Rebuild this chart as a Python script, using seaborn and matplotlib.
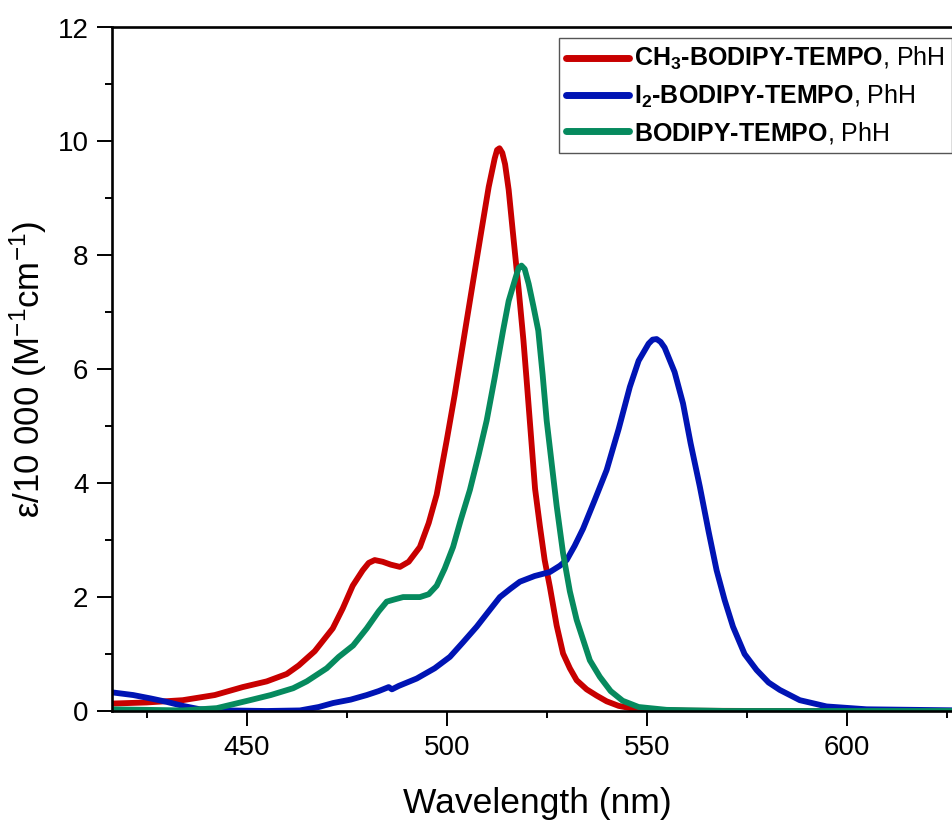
import numpy as np
import pandas as pd
import matplotlib
matplotlib.use("Agg")
import matplotlib.pyplot as plt
from matplotlib.ticker import MultipleLocator
import seaborn as sns

# ---- data ----
ch3_wl = [416, 425, 434, 442, 449, 455, 460, 463, 467, 471.5, 474, 476.5, 479, 480.5, 482, 484, 486,
          488.3, 490.5, 493.3, 495.5, 497.5, 500, 502, 504.6, 506.5, 508.7, 510.5, 512, 512.6, 513.2,
          513.9, 514.6, 515.5, 516.5, 518, 519.2, 520, 521, 522.1, 523.3, 524.5, 525.8, 527.5, 529.1,
          530.8, 532.5, 535, 537.5, 540, 543, 546, 550, 560, 580, 629]
ch3_eps = [0.13, 0.15, 0.19, 0.28, 0.42, 0.52, 0.65, 0.8, 1.05, 1.45, 1.8, 2.2, 2.47, 2.6, 2.65, 2.62, 2.57,
           2.53, 2.62, 2.88, 3.3, 3.8, 4.75, 5.55, 6.68, 7.5, 8.44, 9.2, 9.7, 9.85, 9.88,
           9.8, 9.6, 9.15, 8.44, 7.4, 6.5, 5.8, 4.9, 3.9, 3.25, 2.65, 2.18, 1.5, 1.01,
           0.75, 0.54, 0.38, 0.27, 0.17, 0.09, 0.05, 0.02, 0.005, 0.0, 0.0]

i2_wl = [416, 421.6, 426, 430, 434, 438.3, 445, 455, 463.3, 468, 471.6, 476, 480, 483, 485.5, 486.3, 488,
         492.5, 497, 500.8, 504, 507.5, 510.5, 513.3, 516, 518.3, 522, 525.8, 528.3, 530, 532, 534.1, 537,
         540, 543, 545.8, 548, 550.5, 551.5, 552.5, 553.5, 554.5, 557, 559.1, 561, 563.3, 565.5, 567.5,
         569.5, 571.6, 574.5, 577.5, 580.5, 583.3, 588.3, 595, 605, 629]
i2_eps = [0.33, 0.28, 0.22, 0.16, 0.09, 0.03, 0.01, 0.0, 0.01, 0.07, 0.14, 0.2, 0.28, 0.35, 0.42, 0.38, 0.44,
          0.57, 0.75, 0.95, 1.2, 1.48, 1.75, 2.0, 2.15, 2.27, 2.37, 2.44, 2.55, 2.65, 2.9, 3.2, 3.7,
          4.23, 4.95, 5.69, 6.15, 6.45, 6.52, 6.53, 6.48, 6.38, 5.95, 5.4, 4.7, 3.94, 3.15, 2.47,
          1.95, 1.48, 1.0, 0.72, 0.5, 0.37, 0.19, 0.08, 0.03, 0.01]

bt_wl = [416, 425, 434, 442.5, 450.8, 456, 461.6, 465, 470, 473, 476.6, 480, 483, 485, 487, 489.1, 493.3,
         495.5, 497.5, 499.5, 501.6, 503.5, 505.8, 508, 510, 512, 514.1, 515.5, 517.2, 518, 518.7, 519.5,
         520.5, 521.7, 522.9, 524, 525, 526.5, 527.5, 529.1, 530.8, 532.5, 535.8, 538.3, 541, 544, 548,
         555, 570, 629]
bt_eps = [0.03, 0.02, 0.01, 0.05, 0.19, 0.28, 0.4, 0.52, 0.75, 0.95, 1.15, 1.45, 1.75, 1.92, 1.96, 2.0, 2.0,
          2.05, 2.2, 2.5, 2.88, 3.35, 3.88, 4.5, 5.1, 5.85, 6.68, 7.2, 7.6, 7.78, 7.82, 7.76,
          7.5, 7.1, 6.68, 5.9, 5.1, 4.2, 3.6, 2.77, 2.1, 1.6, 0.89, 0.6, 0.35, 0.18, 0.07,
          0.02, 0.0, 0.0]

labels = [r"$\mathbf{CH_3‐BODIPY‐TEMPO}$, PhH",
          r"$\mathbf{I_2‐BODIPY‐TEMPO}$, PhH",
          r"$\mathbf{BODIPY‐TEMPO}$, PhH"]
colors = ["#C80000", "#0014B4", "#068A5E"]

df = pd.concat([
    pd.DataFrame({"wl": ch3_wl, "eps": ch3_eps, "sample": labels[0]}),
    pd.DataFrame({"wl": i2_wl, "eps": i2_eps, "sample": labels[1]}),
    pd.DataFrame({"wl": bt_wl, "eps": bt_eps, "sample": labels[2]}),
], ignore_index=True)

sns.set_style("ticks")
plt.rcParams["font.family"] = ["Liberation Sans", "DejaVu Sans"]
plt.rcParams["mathtext.fontset"] = "custom"
plt.rcParams["mathtext.rm"] = "Liberation Sans"
plt.rcParams["mathtext.it"] = "Liberation Sans"
plt.rcParams["mathtext.bf"] = "Liberation Sans:bold"
for k in ["text.color", "axes.labelcolor", "xtick.color", "ytick.color", "axes.edgecolor"]:
    plt.rcParams[k] = "black"

fig = plt.figure(figsize=(9.53, 8.21), dpi=100)
ax = fig.add_axes([112 / 953, 1 - 711 / 821, 1 - 112 / 953 + 0.01, (711 - 27.5) / 821])

sns.lineplot(data=df, x="wl", y="eps", hue="sample", hue_order=labels, palette=colors,
             linewidth=4.2, ax=ax, sort=False, estimator=None)
for ln in ax.lines:
    ln.set_solid_joinstyle("round")
    ln.set_solid_capstyle("round")

ax.set_xlim(416.3, 629)
ax.set_ylim(0, 12)
ax.xaxis.set_major_locator(MultipleLocator(50))
ax.xaxis.set_minor_locator(MultipleLocator(25))
ax.yaxis.set_major_locator(MultipleLocator(2))
ax.yaxis.set_minor_locator(MultipleLocator(1))
ax.tick_params(axis="both", which="major", direction="out", length=11, width=1.4, labelsize=20, pad=6)
ax.tick_params(axis="both", which="minor", direction="out", length=5, width=1.4)
for s in ["left", "bottom", "top"]:
    ax.spines[s].set_linewidth(1.9)
ax.spines["right"].set_visible(False)
ax.spines["top"].set_visible(True)

ax.set_xlabel("Wavelength (nm)", fontsize=25.5, labelpad=19)
ax.set_ylabel(r"ε/10 000 (M$^{-1}$cm$^{-1}$)", fontsize=25, labelpad=6)

leg = ax.legend(loc="upper right", bbox_to_anchor=(0.9875, 0.985), borderaxespad=0,
                fontsize=18, handlelength=2.5, handletextpad=0.2, borderpad=0.3,
                labelspacing=0.4, fancybox=False, framealpha=1, edgecolor="#555555")
leg.get_frame().set_linewidth(1.0)
for h in leg.get_lines():
    h.set_linewidth(5)
    h.set_solid_capstyle("round")

fig.savefig("out.png", dpi=100)
